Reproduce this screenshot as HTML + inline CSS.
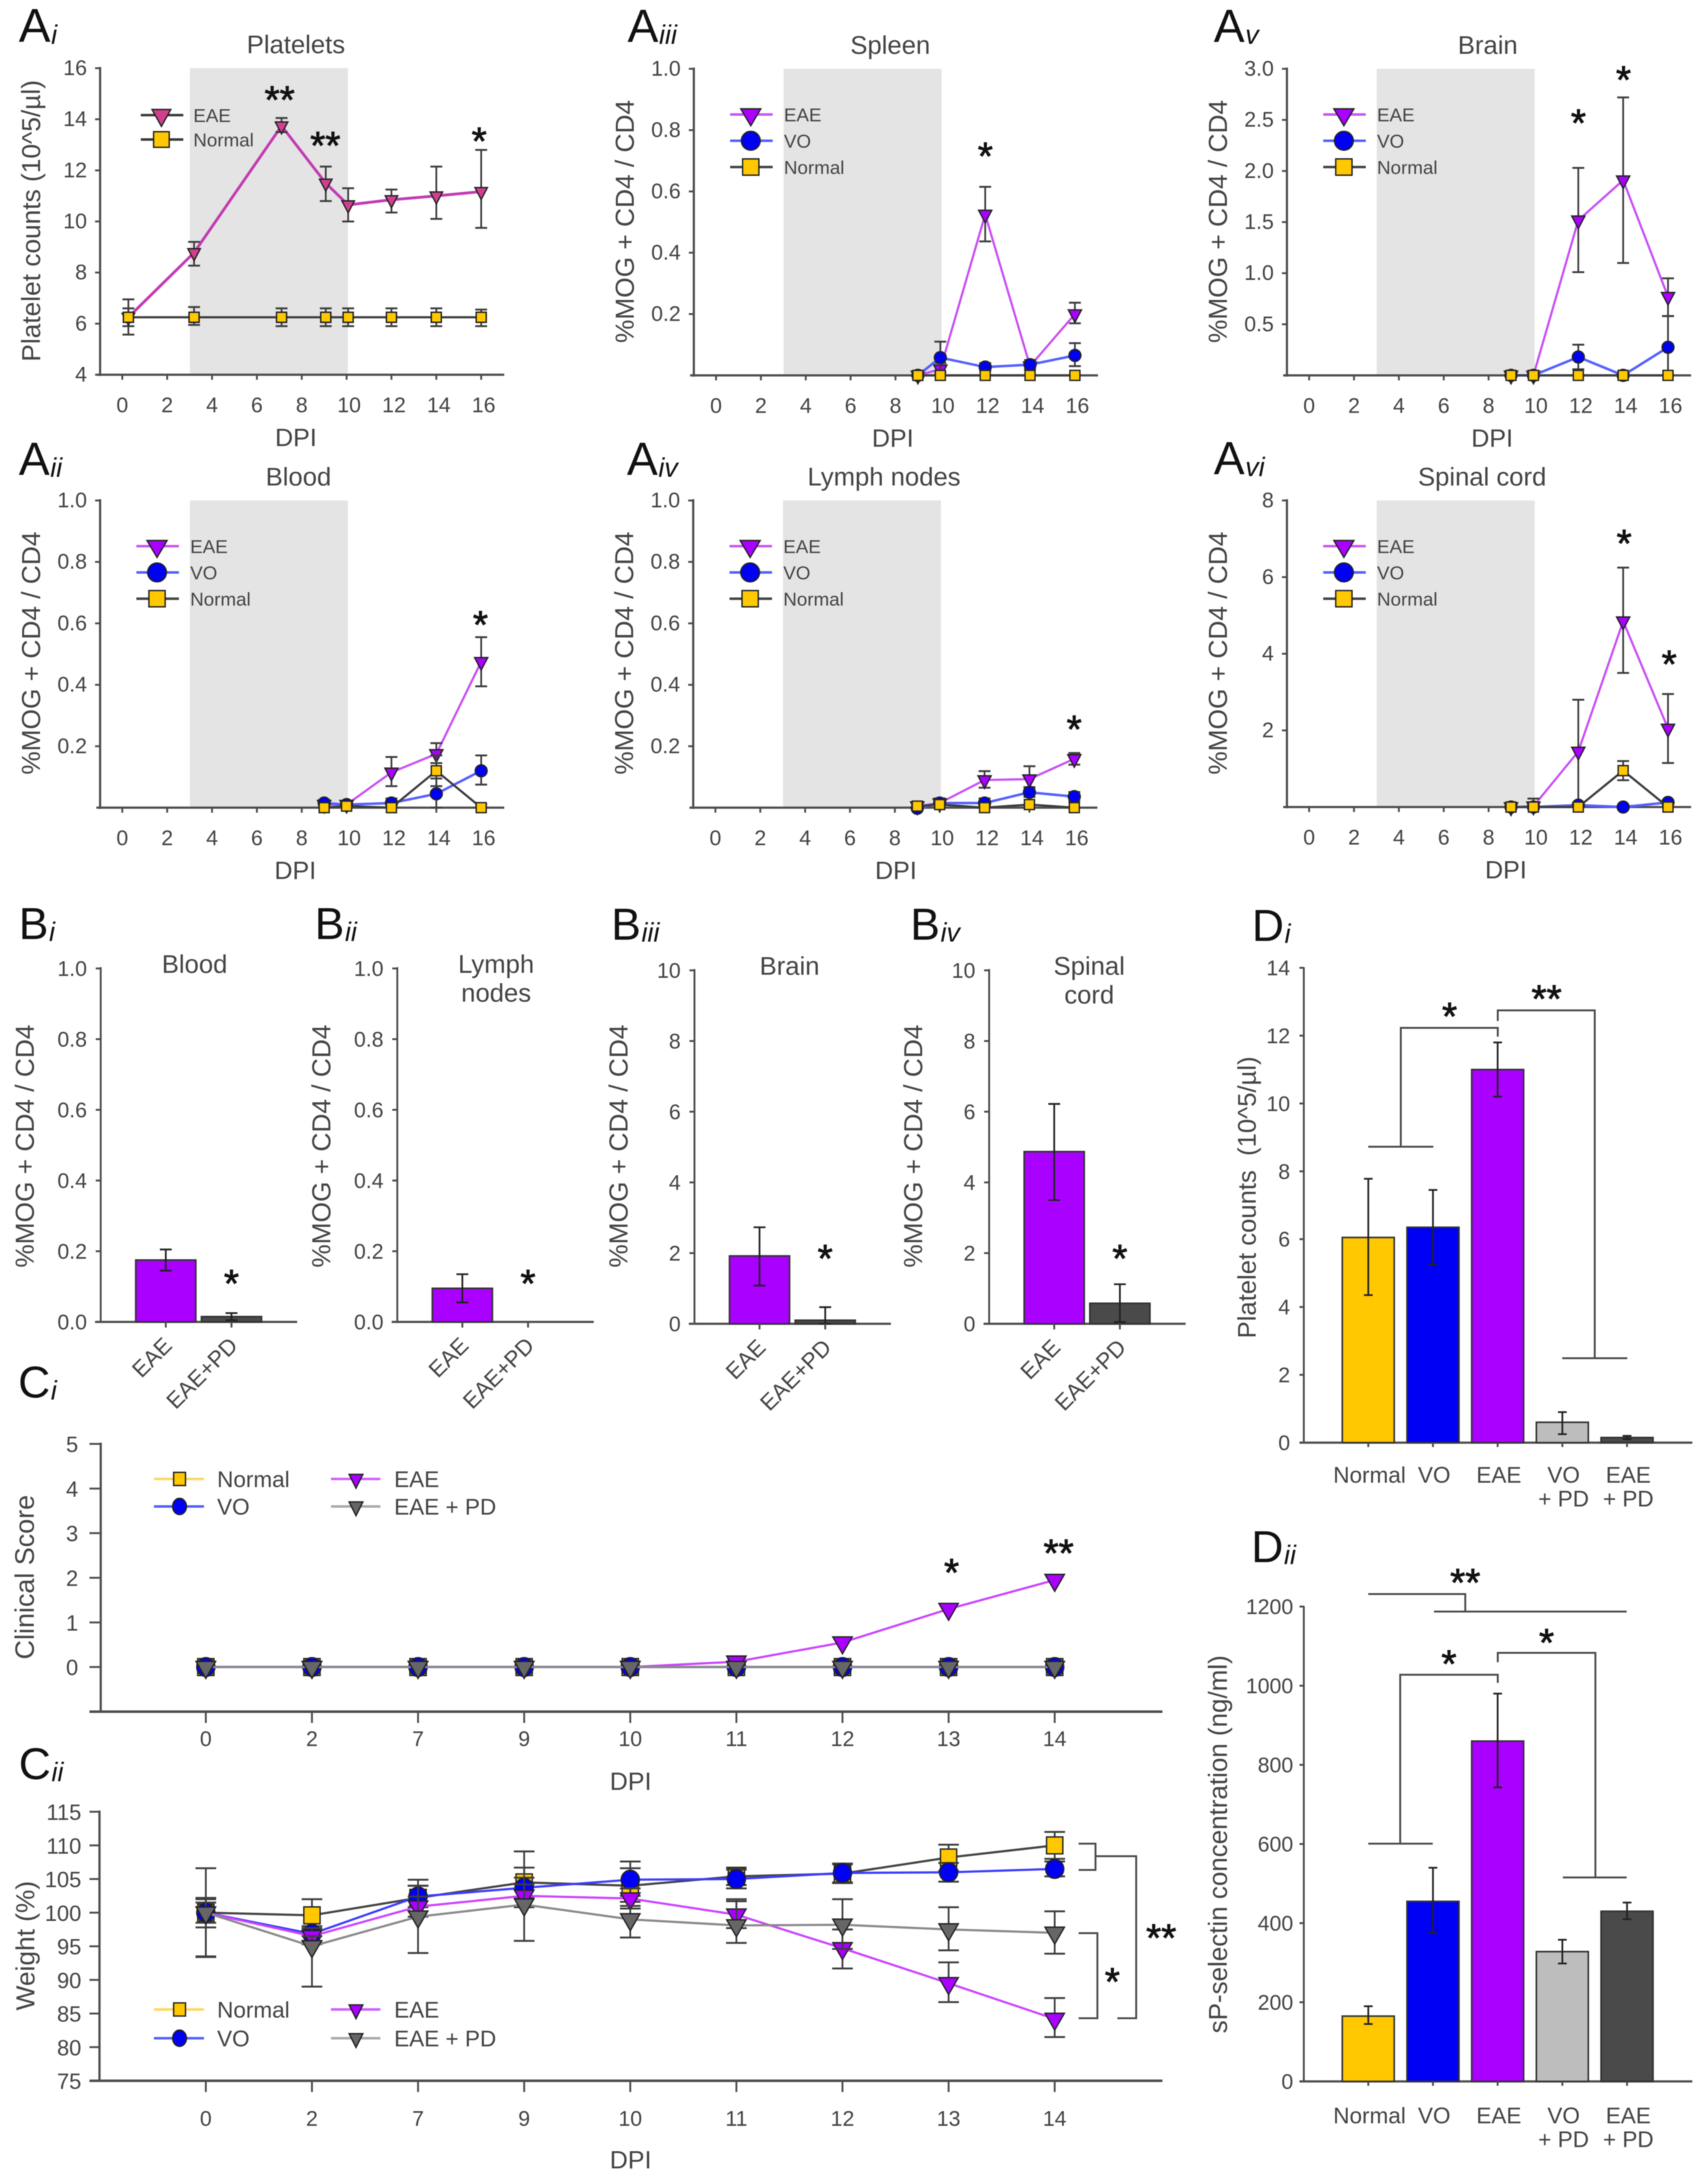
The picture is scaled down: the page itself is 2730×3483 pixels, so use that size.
<!DOCTYPE html>
<html lang="en">
<head>
<meta charset="utf-8">
<title>Platelet and MOG-specific CD4 panels</title>
<style>
html,body{margin:0;padding:0;background:#fff;}
svg{display:block;filter:blur(0.7px);}
text{font-family:"Liberation Sans",sans-serif;white-space:pre;}
</style>
</head>
<body>
<svg id="figure" xmlns="http://www.w3.org/2000/svg" width="2730" height="3483" viewBox="0 0 2730 3483">
<rect x="0" y="0" width="2730" height="3483" fill="#ffffff"></rect>
</svg>
<script>
// ---------- Shared axis categories and tick labels ----------
const aDayTicks = [0, 2, 4, 6, 8, 10, 12, 14, 16];
const aDays = [9, 10, 12, 14, 16];
const aFractionTicks = [0.2, 0.4, 0.6, 0.8, 1.0];
const aFractionTickLabels = ['0.2', '0.4', '0.6', '0.8', '1.0'];
const treatmentBand = [3, 10];

// ---------- Ai Platelets ----------
const aiDays = [0.27, 3.2, 7.1, 9.07, 10.07, 12, 14, 16];
const aiTicks = [4, 6, 8, 10, 12, 14, 16];
const aiEae = [6.25, 8.78, 13.74, 11.5, 10.65, 10.85, 11.0, 11.17];
const aiEaeUp = [6.95, 9.2, 14.05, 12.15, 11.3, 11.25, 12.15, 12.8];
const aiEaeLow = [5.57, 8.27, 13.5, 10.8, 10.0, 10.35, 10.1, 9.75];
const aiNormal = [6.25, 6.25, 6.25, 6.25, 6.25, 6.25, 6.25, 6.25];
const aiNormalUp = [6.6, 6.65, 6.6, 6.6, 6.6, 6.6, 6.6, 6.55];
const aiNormalLow = [5.9, 5.95, 5.9, 5.9, 5.9, 5.9, 5.9, 5.9];

// ---------- Aii Blood ----------
const aiiEae = [0.01, 0.01, 0.115, 0.175, 0.475];
const aiiEaeUp = [0.02, 0.02, 0.165, 0.21, 0.555];
const aiiEaeLow = [0, 0, 0.07, 0.145, 0.395];
const aiiVo = [0.015, 0.01, 0.015, 0.045, 0.12];
const aiiVoUp = [0.025, 0.02, 0.03, 0.095, 0.17];
const aiiVoLow = [0.005, 0, 0, 0, 0.075];
const aiiNormal = [0, 0.005, 0, 0.12, 0];
const aiiNormalUp = [0.01, 0.015, 0.01, 0.17, 0.01];
const aiiNormalLow = [0, 0, 0, 0.07, 0];

// ---------- Aiii Spleen ----------
const aiiiEae = [0, 0.02, 0.525, 0.03, 0.2];
const aiiiEaeUp = [0, 0.04, 0.615, 0.04, 0.237];
const aiiiEaeLow = [0, 0, 0.437, 0.02, 0.17];
const aiiiVo = [0, 0.058, 0.027, 0.035, 0.065];
const aiiiVoUp = [0, 0.11, 0.04, 0.05, 0.105];
const aiiiVoLow = [0, 0.01, 0.015, 0.02, 0.03];
const aiiiNormal = [0, 0, 0, 0, 0];

// ---------- Aiv Lymph nodes ----------
const aivEae = [0.005, 0.015, 0.09, 0.093, 0.159];
const aivEaeUp = [0.01, 0.03, 0.119, 0.135, 0.178];
const aivEaeLow = [0, 0, 0.065, 0.067, 0.14];
const aivVo = [-0.002, 0.015, 0.015, 0.05, 0.036];
const aivVoUp = [0.005, 0.03, 0.03, 0.065, 0.051];
const aivVoLow = [0, 0.005, 0.005, 0.035, 0.021];
const aivNormal = [0.005, 0.01, 0, 0.01, 0];

// ---------- Av Brain ----------
const avTicks = [0.5, 1.0, 1.5, 2.0, 2.5, 3.0];
const avTickLabels = ['0.5', '1.0', '1.5', '2.0', '2.5', '3.0'];
const avEae = [0, 0, 1.518, 1.91, 0.77];
const avEaeUp = [0, 0, 2.03, 2.72, 0.95];
const avEaeLow = [0, 0, 1.01, 1.1, 0.58];
const avVo = [0, 0, 0.18, 0, 0.275];
const avVoUp = [0, 0, 0.3, 0, 0.58];
const avVoLow = [0, 0, 0.06, 0, 0];
const avNormal = [0, 0, 0, 0, 0];

// ---------- Avi Spinal cord ----------
const aviTicks = [2, 4, 6, 8];
const aviEae = [0, 0.02, 1.45, 4.85, 2.05];
const aviEaeUp = [0, 0.22, 2.8, 6.25, 2.95];
const aviEaeLow = [0, 0, 0.1, 3.5, 1.15];
const aviVo = [0, 0, 0.05, 0, 0.12];
const aviNormal = [0, 0, 0, 0.95, 0];
const aviNormalUp = [0.1, 0.1, 0.1, 1.2, 0.05];
const aviNormalLow = [0, 0, 0, 0.7, 0];

// ---------- B bar panels ----------
const bCategories = ['EAE', 'EAE+PD'];
const bFractionTicks = [0, 0.2, 0.4, 0.6, 0.8, 1.0];
const bFractionTickLabels = ['0.0', '0.2', '0.4', '0.6', '0.8', '1.0'];
const bCountTicks = [0, 2, 4, 6, 8, 10];
const biValues = [0.175, 0.015];
const biUp = [0.205, 0.025];
const biLow = [0.145, 0.005];
const biiValues = [0.095, 0];
const biiUp = [0.135, 0];
const biiLow = [0.055, 0];
const biiiValues = [1.92, 0.1];
const biiiUp = [2.73, 0.47];
const biiiLow = [1.08, 0];
const bivValues = [4.87, 0.58];
const bivUp = [6.22, 1.12];
const bivLow = [3.5, 0.05];

// ---------- C time-course panels ----------
const cDays = ['0', '2', '7', '9', '10', '11', '12', '13', '14'];
const ciTicks = [0, 1, 2, 3, 4, 5];
const ciNormal = [0, 0, 0, 0, 0, 0, 0, 0, 0];
const ciVo = [0, 0, 0, 0, 0, 0, 0, 0, 0];
const ciEae = [0, 0, 0, 0, 0, 0.12, 0.55, 1.3, 1.95];
const ciPd = [0, 0, 0, 0, 0, 0, 0, 0, 0];
const ciiTicks = [75, 80, 85, 90, 95, 100, 105, 110, 115];
const ciiNormal = [100, 99.6, 102.2, 104.5, 104, 105.4, 105.8, 108.2, 110];
const ciiNormalUp = [102.2, 102, 104.9, 106.7, 106.6, 106.7, 107.2, 110.1, 112];
const ciiNormalLow = [97.8, 97.4, 100.2, 102.4, 101.6, 104.1, 104.4, 106.2, 108];
const ciiVo = [100, 96.85, 102.4, 103.7, 104.9, 105, 105.9, 106, 106.5];
const ciiVoUp = [101.5, 98, 104, 105.2, 107.6, 106.4, 107.3, 107.4, 107.6];
const ciiVoLow = [98.5, 95.7, 100.8, 102.2, 102.5, 103.6, 104.5, 104.6, 105.4];
const ciiEae = [100, 96.5, 100.9, 102.5, 102.1, 99.7, 94.7, 89.5, 84.2];
const ciiEaeUp = [106.6, 97.7, 102.4, 104.2, 103.6, 101.7, 97.5, 92.6, 87.3];
const ciiEaeLow = [93.4, 95.3, 99.4, 100.8, 100.6, 97.7, 91.7, 86.7, 81.5];
const ciiPd = [100, 95, 99.4, 101.2, 99, 98.1, 98.2, 97.5, 97];
const ciiPdUp = [102, 96.5, 104, 109.1, 101, 102, 102, 100.8, 100.2];
const ciiPdLow = [93.5, 89, 94, 95.8, 96.3, 95.5, 94.6, 94.4, 93.9];

// ---------- D bar panels ----------
const dLabelLine1 = ['Normal', 'VO', 'EAE', 'VO', 'EAE'];
const dLabelLine2 = ['', '', '', '+ PD', '+ PD'];
const diTicks = [0, 2, 4, 6, 8, 10, 12, 14];
const diValues = [6.05, 6.35, 11, 0.6, 0.15];
const diUp = [7.78, 7.45, 11.8, 0.9, 0.2];
const diLow = [4.35, 5.25, 10.2, 0.25, 0.1];
const diiTicks = [0, 200, 400, 600, 800, 1000, 1200];
const diiValues = [165, 455, 860, 328, 430];
const diiUp = [190, 540, 980, 358, 452];
const diiLow = [145, 375, 743, 298, 410];

// ---------- Style constants ----------
const NS = 'http://www.w3.org/2000/svg';
const AXIS = '#4c4c4c';
const TXT = '#444444';
const YEL = '#ffc800';
const BLU = '#0000f5';
const PUR = '#aa00ff';
const root = document.getElementById('figure');

function mk(tag, parent, name) {
  const el = document.createElementNS(NS, tag);
  
  
  parent.appendChild(el);
  return el;
}
function set(el, attrs) {
  Object.keys(attrs).forEach(function (k) { el.setAttribute(k, attrs[k]); });
  return el;
}
function seg(p, x1, y1, x2, y2, color, w, name) {
  return set(mk('line', p, name), {x1: x1, y1: y1, x2: x2, y2: y2, stroke: color, 'stroke-width': w});
}
function txt(p, s, x, y, size, anchor, name, fill, rot) {
  const el = set(mk('text', p, name), {x: x, y: y, 'font-size': size, 'text-anchor': anchor || 'start', fill: fill || TXT});
  if (rot) el.setAttribute('transform', 'rotate(' + rot + ' ' + x + ' ' + y + ')');
  el.textContent = s;
  return el;
}
function star(p, s, x, y) {
  const size = 62;
  const el = txt(p, s, x, y + size * 0.47, size, 'middle', s.length > 1 ? 'significance-double-star' : 'significance-star', '#111111');
  set(el, {stroke: '#111111', 'stroke-width': 1.2});
  return el;
}
function panelLabel(p, letter, sub, x, y, size) {
  const fs = size || 71;
  const el = txt(p, letter, x, y, fs, 'start', 'panel-label-' + letter + sub, '#111111');
  const t = document.createElementNS(NS, 'tspan');
  set(t, {'font-size': 43, 'font-style': 'italic', dy: 3, dx: 1});
  t.textContent = sub;
  el.appendChild(t);
}
function marker(p, kind, x, y, w, h, fill, name) {
  if (kind === 'square') {
    return set(mk('rect', p, name), {x: x - w / 2, y: y - h / 2, width: w, height: h, fill: fill, stroke: '#222', 'stroke-width': 2.2});
  }
  if (kind === 'circle') {
    return set(mk('ellipse', p, name), {cx: x, cy: y, rx: w / 2, ry: h / 2, fill: fill, stroke: '#222', 'stroke-width': 2.2});
  }
  const pts = (x - w / 2) + ',' + (y - h / 3) + ' ' + (x + w / 2) + ',' + (y - h / 3) + ' ' + x + ',' + (y + 2 * h / 3);
  return set(mk('polygon', p, name), {points: pts, fill: fill, stroke: '#222', 'stroke-width': 2.2});
}
function xPos(ax, d) { return ax.x0 + d * ax.step; }
function yPos(ax, v) { return ax.bottom - (v - ax.min) / (ax.max - ax.min) * (ax.bottom - ax.top); }

function bracket(p, pts, name) {
  return set(mk('polyline', p, name), {points: pts.map(function (q) { return q.join(','); }).join(' '), fill: 'none', stroke: '#4a4a4a', 'stroke-width': 3});
}
function series(p, ax, xs, ys, ups, lows, st, name) {
  const g = mk('g', p, name);
  const pts = xs.map(function (d, i) { return xPos(ax, d) + ',' + yPos(ax, ys[i]); }).join(' ');
  set(mk('polyline', g, name + '-line'), {points: pts, fill: 'none', stroke: st.line, 'stroke-width': st.lw || 3.5});
  if (ups && lows) {
    xs.forEach(function (d, i) {
      const x = xPos(ax, d);
      const yu = yPos(ax, ups[i]);
      const yl = yPos(ax, lows[i]);
      seg(g, x, yu, x, yl, '#3d3d3d', 2.8, name + '-error-bar');
      seg(g, x - st.cap / 2, yu, x + st.cap / 2, yu, '#3d3d3d', 3, name + '-error-cap-upper');
      seg(g, x - st.cap / 2, yl, x + st.cap / 2, yl, '#3d3d3d', 3, name + '-error-cap-lower');
    });
  }
  xs.forEach(function (d, i) {
    marker(g, st.kind, xPos(ax, d), yPos(ax, ys[i]), st.w, st.h, st.fill, name + '-point');
  });
}
function legendRow(p, kind, fill, lineCol, label, mx, lx1, lx2, tx, y, w, h, fs, name) {
  const g = mk('g', p, name);
  seg(g, lx1, y, lx2, y, lineCol, 4, name + '-line');
  marker(g, kind, mx, y, w, h, fill, name + '-marker');
  txt(g, label, tx, y + fs * 0.36, fs, 'start', name + '-label');
}

// A-series panel frame: band, axes, ticks, titles
function aFrame(cfg) {
  const g = mk('g', root, cfg.name);
  const ax = {x0: cfg.axisX + 35.5, step: 35.85, top: cfg.top, bottom: cfg.bottom, min: cfg.min, max: cfg.max};
  set(mk('rect', g, 'treatment-window-band'), {x: xPos(ax, treatmentBand[0]) + 0.5, y: cfg.top, width: xPos(ax, treatmentBand[1]) - xPos(ax, treatmentBand[0]) + 1.5, height: cfg.bottom - cfg.top, fill: '#e4e4e4'});
  seg(g, cfg.axisX, cfg.top - 2, cfg.axisX, cfg.bottom + 2, AXIS, 3.5, 'y-axis-line');
  seg(g, cfg.axisX - 6, cfg.bottom, cfg.axisX + 646, cfg.bottom, AXIS, 3.5, 'x-axis-line');
  cfg.ticks.forEach(function (v, i) {
    const y = yPos(ax, v);
    seg(g, cfg.axisX - 8, y, cfg.axisX, y, AXIS, 3, 'y-axis-tick');
    txt(g, cfg.tickLabels ? cfg.tickLabels[i] : String(v), cfg.axisX - 21, y + 11, 34, 'end', 'y-tick-label');
  });
  aDayTicks.forEach(function (d) {
    const x = xPos(ax, d);
    seg(g, x, cfg.bottom, x, cfg.bottom + 8, AXIS, 3, 'x-axis-tick');
    txt(g, String(d), x + (d >= 10 ? 4 : 0), cfg.bottom + 60, 34, 'middle', 'x-tick-label');
  });
  txt(g, cfg.title, cfg.titleX, cfg.top - 24, 41, 'middle', 'panel-title');
  txt(g, 'DPI', cfg.dpiX, cfg.bottom + 114, 40, 'middle', 'x-axis-title');
  txt(g, cfg.ylabel, cfg.axisX - 96, cfg.top + 244, 42, 'middle', 'y-axis-title', TXT, -90);
  g.ax = ax;
  return g;
}
function aLegend(g, cfg, withVo, eaeFill, eaeLine) {
  const a = cfg.axisX;
  const y0 = cfg.top + 73;
  legendRow(g, 'tri', eaeFill || PUR, eaeLine || '#cc55f5', 'EAE', a + 91, a + 58, a + 126, a + 144, y0, 32, 27, 30, 'legend-entry-eae');
  if (withVo) {
    legendRow(g, 'circle', BLU, '#5060ff', 'VO', a + 91, a + 58, a + 126, a + 144, y0 + 42, 30, 30, 30, 'legend-entry-vo');
    legendRow(g, 'square', YEL, '#444444', 'Normal', a + 91, a + 58, a + 126, a + 144, y0 + 84, 26, 26, 30, 'legend-entry-normal');
  }
}
const stEae = {kind: 'tri', fill: PUR, line: '#c94ff5', w: 21, h: 20, cap: 19, lw: 3.5};
const stVo = {kind: 'circle', fill: BLU, line: '#5560ff', w: 19, h: 19, cap: 19, lw: 4};
const stNormal = {kind: 'square', fill: YEL, line: '#3c3c3c', w: 16, h: 16, cap: 19, lw: 3.5};

// --- Ai
(function () {
  const cfg = {name: 'panel-a-i-platelets', axisX: 160, top: 109, bottom: 599, min: 4, max: 16, ticks: aiTicks, title: 'Platelets', titleX: 473, dpiX: 473, ylabel: 'Platelet counts (10^5/\u00b5l)'};
  const g = aFrame(cfg);
  series(g, g.ax, aiDays, aiNormal, aiNormalUp, aiNormalLow, stNormal, 'series-normal');
  series(g, g.ax, aiDays, aiEae, aiEaeUp, aiEaeLow, {kind: 'tri', fill: '#d0408f', line: '#c43ab4', w: 20, h: 19, cap: 19, lw: 4.5}, 'series-eae');
  const nG = mk('g', g, 'series-normal-points');
  aiDays.forEach(function (d, i) { marker(nG, 'square', xPos(g.ax, d), yPos(g.ax, aiNormal[i]), 16, 16, YEL, 'normal-point'); });
  legendRow(g, 'tri', '#d0408f', '#3a3a3a', 'EAE', 258, 225, 293, 309, 184, 30, 27, 30, 'legend-entry-eae');
  legendRow(g, 'square', YEL, '#3a3a3a', 'Normal', 258, 225, 293, 309, 223, 25, 25, 30, 'legend-entry-normal');
  star(g, '**', 447, 152); star(g, '**', 520, 225); star(g, '*', 766, 218);
  panelLabel(root, 'A', 'i', 30, 67, 76);
})();

// --- Aii
(function () {
  const cfg = {name: 'panel-a-ii-blood', axisX: 160, top: 800, bottom: 1291, min: 0, max: 1, ticks: aFractionTicks, tickLabels: aFractionTickLabels, title: 'Blood', titleX: 477, dpiX: 472, ylabel: '%MOG + CD4 / CD4'};
  const g = aFrame(cfg);
  aLegend(g, cfg, true);
  series(g, g.ax, aDays, aiiEae, aiiEaeUp, aiiEaeLow, stEae, 'series-eae');
  series(g, g.ax, aDays, aiiVo, aiiVoUp, aiiVoLow, stVo, 'series-vo');
  series(g, g.ax, aDays, aiiNormal, aiiNormalUp, aiiNormalLow, stNormal, 'series-normal');
  star(g, '*', 768, 991);
  panelLabel(root, 'A', 'ii', 30, 759, 74);
})();

// --- Aiii
(function () {
  const cfg = {name: 'panel-a-iii-spleen', axisX: 1109, top: 110, bottom: 600, min: 0, max: 1, ticks: aFractionTicks, tickLabels: aFractionTickLabels, title: 'Spleen', titleX: 1423, dpiX: 1427, ylabel: '%MOG + CD4 / CD4'};
  const g = aFrame(cfg);
  aLegend(g, cfg, true);
  series(g, g.ax, aDays, aiiiEae, aiiiEaeUp, aiiiEaeLow, stEae, 'series-eae');
  series(g, g.ax, aDays, aiiiVo, aiiiVoUp, aiiiVoLow, stVo, 'series-vo');
  series(g, g.ax, aDays, aiiiNormal, null, null, stNormal, 'series-normal');
  star(g, '*', 1575, 242);
  panelLabel(root, 'A', 'iii', 1003, 67, 74);
})();

// --- Aiv
(function () {
  const cfg = {name: 'panel-a-iv-lymph-nodes', axisX: 1108, top: 800, bottom: 1291, min: 0, max: 1, ticks: aFractionTicks, tickLabels: aFractionTickLabels, title: 'Lymph nodes', titleX: 1413, dpiX: 1432, ylabel: '%MOG + CD4 / CD4'};
  const g = aFrame(cfg);
  aLegend(g, cfg, true);
  series(g, g.ax, aDays, aivEae, aivEaeUp, aivEaeLow, stEae, 'series-eae');
  series(g, g.ax, aDays, aivVo, aivVoUp, aivVoLow, stVo, 'series-vo');
  series(g, g.ax, aDays, aivNormal, null, null, stNormal, 'series-normal');
  star(g, '*', 1717, 1158);
  panelLabel(root, 'A', 'iv', 1002, 759, 74);
})();

// --- Av
(function () {
  const cfg = {name: 'panel-a-v-brain', axisX: 2057, top: 110, bottom: 600, min: 0, max: 3, ticks: avTicks, tickLabels: avTickLabels, title: 'Brain', titleX: 2378, dpiX: 2385, ylabel: '%MOG + CD4 / CD4'};
  const g = aFrame(cfg);
  aLegend(g, cfg, true);
  series(g, g.ax, aDays, avEae, avEaeUp, avEaeLow, stEae, 'series-eae');
  series(g, g.ax, aDays, avVo, avVoUp, avVoLow, stVo, 'series-vo');
  series(g, g.ax, aDays, avNormal, null, null, stNormal, 'series-normal');
  star(g, '*', 2523, 189); star(g, '*', 2595, 120);
  panelLabel(root, 'A', 'v', 1940, 67, 74);
})();

// --- Avi
(function () {
  const cfg = {name: 'panel-a-vi-spinal-cord', axisX: 2057, top: 800, bottom: 1290, min: 0, max: 8, ticks: aviTicks, title: 'Spinal cord', titleX: 2369, dpiX: 2407, ylabel: '%MOG + CD4 / CD4'};
  const g = aFrame(cfg);
  aLegend(g, cfg, true);
  series(g, g.ax, aDays, aviEae, aviEaeUp, aviEaeLow, stEae, 'series-eae');
  series(g, g.ax, aDays, aviVo, null, null, stVo, 'series-vo');
  series(g, g.ax, aDays, aviNormal, aviNormalUp, aviNormalLow, stNormal, 'series-normal');
  star(g, '*', 2596, 861); star(g, '*', 2668, 1054);
  panelLabel(root, 'A', 'vi', 1940, 758, 74);
})();

// ---------- Bar panel helpers ----------
function barMarks(g, ax, names, values, ups, lows, fills, capW, barW) {
  values.forEach(function (v, i) {
    const x = xPos(ax, i);
    const y = yPos(ax, v);
    set(mk('rect', g, 'bar-' + names[i]), {x: x - barW / 2, y: y, width: barW, height: ax.bottom - y, fill: fills[i], stroke: '#333', 'stroke-width': 2.6});
  });
  values.forEach(function (v, i) {
    if (ups[i] === lows[i]) return;
    const x = xPos(ax, i);
    seg(g, x, yPos(ax, ups[i]), x, yPos(ax, lows[i]), '#222', 2.8, 'error-bar-' + names[i]);
    seg(g, x - capW / 2, yPos(ax, ups[i]), x + capW / 2, yPos(ax, ups[i]), '#222', 2.8, 'error-cap-upper-' + names[i]);
    seg(g, x - capW / 2, yPos(ax, lows[i]), x + capW / 2, yPos(ax, lows[i]), '#222', 2.8, 'error-cap-lower-' + names[i]);
  });
}
function bPanel(c) {
  const g = mk('g', root, c.name);
  const ax = {x0: c.axisX + 104, step: 105, top: c.top, bottom: c.bottom, min: 0, max: c.max};
  seg(g, c.axisX, c.top - 2, c.axisX, c.bottom, AXIS, 3, 'y-axis-line');
  seg(g, c.axisX - 9, c.bottom, c.axisX + 314, c.bottom, AXIS, 3.5, 'x-axis-line');
  c.ticks.forEach(function (v, i) {
    const y = yPos(ax, v);
    seg(g, c.axisX - 8, y, c.axisX, y, AXIS, 3, 'y-axis-tick');
    txt(g, c.tickLabels ? c.tickLabels[i] : String(v), c.axisX - 22, y + 12, 34, 'end', 'y-tick-label');
  });
  barMarks(g, ax, ['eae', 'eae-pd'], c.values, c.ups, c.lows, [PUR, '#4a4a4a'], 19, 96);
  bCategories.forEach(function (label, i) {
    const x = xPos(ax, i);
    seg(g, x, c.bottom, x, c.bottom + 9, AXIS, 3, 'x-axis-tick');
    txt(g, label, x + 12, c.bottom + 40, 36, 'end', 'x-category-label', TXT, -45);
  });
  c.title.forEach(function (line, i) {
    txt(g, line, c.titleX, c.top + 7 + i * 46, 41, 'middle', 'panel-title');
  });
  txt(g, '%MOG + CD4 / CD4', c.axisX - 107, 1832, 42, 'middle', 'y-axis-title', TXT, -90);
  star(g, '*', xPos(ax, 1), c.starY);
  panelLabel(root, 'B', c.sub, c.labelX, c.labelY);
}
bPanel({name: 'panel-b-i-blood', sub: 'i', axisX: 161, top: 1548, bottom: 2113, max: 1, ticks: bFractionTicks, tickLabels: bFractionTickLabels, values: biValues, ups: biUp, lows: biLow, title: ['Blood'], titleX: 311, starY: 2044, labelX: 30, labelY: 1501});
bPanel({name: 'panel-b-ii-lymph-nodes', sub: 'ii', axisX: 635, top: 1548, bottom: 2113, max: 1, ticks: bFractionTicks, tickLabels: bFractionTickLabels, values: biiValues, ups: biiUp, lows: biiLow, title: ['Lymph', 'nodes'], titleX: 793, starY: 2044, labelX: 503, labelY: 1501});
bPanel({name: 'panel-b-iii-brain', sub: 'iii', axisX: 1110, top: 1551, bottom: 2116, max: 10, ticks: bCountTicks, values: biiiValues, ups: biiiUp, lows: biiiLow, title: ['Brain'], titleX: 1262, starY: 2004, labelX: 977, labelY: 1502});
bPanel({name: 'panel-b-iv-spinal-cord', sub: 'iv', axisX: 1581, top: 1551, bottom: 2116, max: 10, ticks: bCountTicks, values: bivValues, ups: bivUp, lows: bivLow, title: ['Spinal', 'cord'], titleX: 1741, starY: 2004, labelX: 1455, labelY: 1502});

// ---------- C panels ----------
function cFrame(c) {
  const g = mk('g', root, c.name);
  const ax = {x0: 329, step: 169.6, top: c.top, bottom: c.bottom, min: c.min, max: c.max};
  seg(g, c.axisX, c.top - 2, c.axisX, c.bottom, AXIS, 3.5, 'y-axis-line');
  seg(g, 143, c.bottom, 1858, c.bottom, AXIS, 4, 'x-axis-line');
  c.ticks.forEach(function (v) {
    const y = yPos(ax, v);
    seg(g, 143, y, c.axisX, y, AXIS, 3, 'y-axis-tick');
    txt(g, String(v), c.tickRight, y + 13, 35, 'end', 'y-tick-label');
  });
  cDays.forEach(function (d, i) {
    const x = xPos(ax, i);
    seg(g, x, c.bottom, x, c.bottom + 18, AXIS, 3, 'x-axis-tick');
    txt(g, d, x, c.bottom + c.tickOffset, 34, 'middle', 'x-tick-label');
  });
  txt(g, 'DPI', 1008, c.bottom + c.dpiOffset, 40, 'middle', 'x-axis-title');
  txt(g, c.ylabel, c.ylabelX, c.ylabelY, c.ylabelSize, 'middle', 'y-axis-title', TXT, -90);
  g.ax = ax;
  return g;
}
const cIdx = cDays.map(function (d, i) { return i; });
const stCNormal = {kind: 'square', fill: YEL, line: '#444444', w: 26, h: 27, cap: 33, lw: 3.5};
const stCVo = {kind: 'circle', fill: BLU, line: '#3c3cff', w: 29, h: 30, cap: 33, lw: 3.5};
const stCEae = {kind: 'tri', fill: PUR, line: '#cc44ff', w: 31, h: 27, cap: 33, lw: 3.5};
const stCPd = {kind: 'tri', fill: '#666666', line: '#8a8a8a', w: 31, h: 27, cap: 33, lw: 3.5};
function cLegend(g, y1, y2) {
  legendRow(g, 'square', YEL, '#ffd75e', 'Normal', 287, 246, 326, 347, y1, 19, 21, 36, 'legend-entry-normal');
  legendRow(g, 'circle', BLU, '#5060ff', 'VO', 287, 246, 326, 347, y2, 22, 26, 36, 'legend-entry-vo');
  legendRow(g, 'tri', PUR, '#d060ff', 'EAE', 569, 529, 608, 630, y1, 22, 22, 36, 'legend-entry-eae');
  legendRow(g, 'tri', '#666666', '#aaaaaa', 'EAE + PD', 569, 529, 608, 630, y2, 22, 22, 36, 'legend-entry-eae-pd');
}
(function () {
  const g = cFrame({name: 'panel-c-i-clinical-score', axisX: 161, top: 2308, bottom: 2736, min: -1, max: 5, ticks: ciTicks, tickRight: 125, tickOffset: 55, dpiOffset: 125, ylabel: 'Clinical Score', ylabelX: 54, ylabelY: 2521, ylabelSize: 43});
  seg(g, 143, 2736, 161, 2736, AXIS, 3, 'y-axis-tick-minimum');
  cLegend(g, 2364, 2408);
  series(g, g.ax, cIdx, ciNormal, null, null, stCNormal, 'series-normal');
  series(g, g.ax, cIdx, ciVo, null, null, stCVo, 'series-vo');
  series(g, g.ax, cIdx, ciEae, null, null, stCEae, 'series-eae');
  series(g, g.ax, cIdx, ciPd, null, null, stCPd, 'series-eae-pd');
  star(g, '*', 1521, 2506); star(g, '**', 1692, 2475);
  panelLabel(root, 'C', 'i', 29, 2234);
})();
(function () {
  const g = cFrame({name: 'panel-c-ii-weight', axisX: 159, top: 2896, bottom: 3326, min: 75, max: 115, ticks: ciiTicks, tickRight: 130, tickOffset: 72, dpiOffset: 140, ylabel: 'Weight (%)', ylabelX: 55, ylabelY: 3110, ylabelSize: 42});
  cLegend(g, 3212, 3258);
  series(g, g.ax, cIdx, ciiNormal, ciiNormalUp, ciiNormalLow, stCNormal, 'series-normal');
  series(g, g.ax, cIdx, ciiVo, ciiVoUp, ciiVoLow, stCVo, 'series-vo');
  series(g, g.ax, cIdx, ciiEae, ciiEaeUp, ciiEaeLow, stCEae, 'series-eae');
  series(g, g.ax, cIdx, ciiPd, ciiPdUp, ciiPdLow, stCPd, 'series-eae-pd');
  bracket(g, [[1724, 2947], [1751, 2947], [1751, 2989], [1724, 2989]], 'significance-bracket-normal-vo');
  bracket(g, [[1751, 2967], [1816, 2967], [1816, 3226], [1786, 3226]], 'significance-bracket-outer');
  bracket(g, [[1724, 3090], [1754, 3090], [1754, 3226], [1724, 3226]], 'significance-bracket-inner');
  star(g, '**', 1856, 3090); star(g, '*', 1778, 3160);
  panelLabel(root, 'C', 'ii', 30, 2844);
})();

// ---------- D panels ----------
function dPanel(c) {
  const g = mk('g', root, c.name);
  const ax = {x0: 2187, step: 103.4, top: c.top, bottom: c.bottom, min: 0, max: c.max};
  seg(g, 2084, c.top - 1, 2084, c.bottom, AXIS, 3, 'y-axis-line');
  seg(g, 2077, c.bottom, 2705, c.bottom, AXIS, 3.5, 'x-axis-line');
  c.ticks.forEach(function (v) {
    const y = yPos(ax, v);
    seg(g, 2077, y, 2084, y, AXIS, 3, 'y-axis-tick');
    txt(g, String(v), c.tickRight, y + 12, 34, 'end', 'y-tick-label');
  });
  barMarks(g, ax, ['normal', 'vo', 'eae', 'vo-pd', 'eae-pd'], c.values, c.ups, c.lows, [YEL, BLU, PUR, '#bdbdbd', '#4a4a4a'], 14, 83);
  dLabelLine1.forEach(function (label, i) {
    const x = xPos(ax, i);
    seg(g, x, c.bottom, x, c.bottom + 7, AXIS, 3, 'x-axis-tick');
    txt(g, label, x + 2, c.bottom + c.lab1, 36, 'middle', 'x-category-label');
    if (dLabelLine2[i]) txt(g, dLabelLine2[i], x + 2, c.bottom + c.lab1 + 38, 36, 'middle', 'x-category-label-second-line');
  });
  txt(g, c.ylabel, c.ylabelX, c.ylabelY, c.ylabelSize, 'middle', 'y-axis-title', TXT, -90);
  return g;
}
(function () {
  const g = dPanel({name: 'panel-d-i-platelet-counts', top: 1547, bottom: 2306, max: 14, ticks: diTicks, tickRight: 2062, values: diValues, ups: diUp, lows: diLow, lab1: 64, ylabel: 'Platelet counts  (10^5/\u00b5l)', ylabelX: 2007, ylabelY: 1914, ylabelSize: 41});
  bracket(g, [[2187, 1833], [2291, 1833]], 'bracket-group-normal-vo');
  bracket(g, [[2239, 1833], [2239, 1643], [2394, 1643], [2394, 1657]], 'bracket-normal-vo-vs-eae');
  bracket(g, [[2394, 1632], [2394, 1615], [2549, 1615], [2549, 2171]], 'bracket-eae-vs-pd');
  bracket(g, [[2497, 2171], [2601, 2171]], 'bracket-group-pd');
  star(g, '*', 2317, 1617); star(g, '**', 2472, 1589);
  panelLabel(root, 'D', 'i', 2001, 1504);
})();
(function () {
  const g = dPanel({name: 'panel-d-ii-sp-selectin', top: 2568, bottom: 3327, max: 1200, ticks: diiTicks, tickRight: 2067, values: diiValues, ups: diiUp, lows: diiLow, lab1: 67, ylabel: 'sP-selectin concentration (ng/ml)', ylabelX: 1961, ylabelY: 2948, ylabelSize: 41.5});
  bracket(g, [[2187, 2548], [2342, 2548], [2342, 2576]], 'bracket-normal-top');
  bracket(g, [[2292, 2576], [2600, 2576]], 'bracket-rest-top');
  bracket(g, [[2187, 2947], [2290, 2947]], 'bracket-group-normal-vo');
  bracket(g, [[2238, 2947], [2238, 2677], [2394, 2677], [2394, 2690]], 'bracket-normal-vo-vs-eae');
  bracket(g, [[2394, 2657], [2394, 2642], [2550, 2642], [2550, 3001]], 'bracket-eae-vs-pd');
  bracket(g, [[2498, 3001], [2600, 3001]], 'bracket-group-pd');
  star(g, '**', 2342, 2522); star(g, '*', 2316, 2652); star(g, '*', 2472, 2618);
  panelLabel(root, 'D', 'ii', 2000, 2497);
})();
</script>
</body>
</html>
